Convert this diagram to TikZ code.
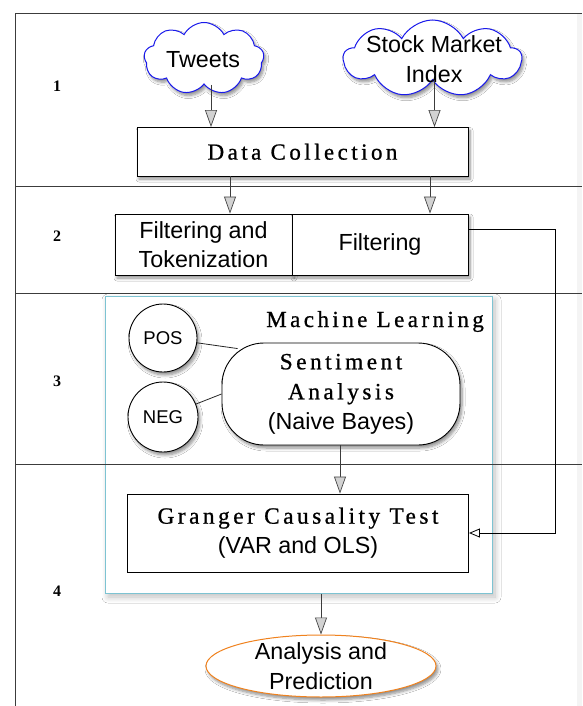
\documentclass[tikz,border=0pt]{standalone}
\usepackage{fontspec}
\setmainfont{Liberation Sans}
\newfontfamily\serf{Liberation Serif}[LetterSpace=15,FakeBold=0.8]
\newfontfamily\numf{Liberation Serif}
\usetikzlibrary{shapes.symbols,shapes.geometric,arrows.meta,shadows.blur,calc}
\definecolor{cloudblue}{RGB}{25,25,235}
\definecolor{mlteal}{RGB}{125,195,210}
\definecolor{apor}{RGB}{240,130,30}
\definecolor{linegray}{RGB}{60,60,60}
\begin{document}
\begin{tikzpicture}[x=1pt,y=-1pt,
  sans/.style={font=\fontsize{23.3}{29.5}\selectfont, align=center, inner sep=0pt},
  sertxt/.style={font=\serf\fontsize{23}{30}\selectfont, align=center, inner sep=0pt},
  box/.style={draw=black, line width=0.9pt, fill=white, inner sep=0pt},
  shad/.style={blur shadow={shadow xshift=2pt, shadow yshift=-3pt, shadow opacity=45, shadow blur steps=6, shadow blur radius=3pt}},
  softshad/.style={blur shadow={shadow xshift=3pt, shadow yshift=-4pt, shadow opacity=25, shadow blur steps=8, shadow blur radius=6pt}},
  cloudnode/.style={cloud, cloud puffs=9, cloud puff arc=125, cloud ignores aspect, draw=cloudblue, line width=1pt, fill=white, inner sep=0pt},
  garr/.style={draw=linegray, line width=0.9pt, -{Triangle[length=17pt,width=12pt,fill=gray!35,color=gray!55!black,line width=0.7pt]}},
  warr/.style={draw=black, line width=0.8pt, -{Triangle[length=11pt,width=9pt,fill=white,line width=0.8pt]}},
  thinline/.style={draw=black!85, line width=0.8pt},
  sep/.style={draw=linegray, line width=0.9pt},
  rownum/.style={font=\numf\bfseries\fontsize{16}{16}\selectfont, inner sep=0pt}
]
\useasboundingbox (0,0) rectangle (582,706);
\fill[white] (0,0) rectangle (582,706);
\fill[gray!9] (577,13) rectangle (582,706);

% machine learning frame (filled first so separators show through)
\node[draw=mlteal, line width=1pt, fill=white, softshad, minimum width=387pt, minimum height=297pt, inner sep=0pt] (ml) at (298.5,444.5) {};

% frame and row separators
\draw[sep] (15,706) -- (15,13) -- (582,13);
\draw[sep] (15,186) -- (582,186);
\draw[sep] (15,293) -- (582,293);
\draw[sep] (15,464) -- (582,464);

\node[rownum] (r1) at (57,86) {1};
\node[rownum] (r2) at (57,236) {2};
\node[rownum] (r3) at (57,381) {3};
\node[rownum] (r4) at (57,591) {4};

% clouds
\node[cloudnode, shad, minimum width=120pt, minimum height=72pt] (tw) at (204,58.5) {};
\node[sans] (twt) at (203,60) {Tweets};
\node[cloudnode, shad, minimum width=178pt, minimum height=77pt] (st) at (432.5,58.5) {};
\node[sans] (stt) at (434,59) {Stock Market\\Index};

% boxes
\node[box, shad, minimum width=331pt, minimum height=48.5pt, sertxt] (dc) at (302.5,151.75) {Data Collection};
\node[box, shad, minimum width=177pt, minimum height=61pt, sans] (ft) at (203.5,244.5) {Filtering and\\Tokenization};
\node[box, shad, minimum width=176pt, minimum height=61pt, sans] (filt) at (380,244.5) {Filtering};

\node[sertxt, anchor=base east] (mll) at (484,327) {Machine Learning};

\node[circle, draw=black, line width=0.9pt, fill=white, shad, minimum size=68pt, inner sep=0pt, font=\fontsize{18.5}{20}\selectfont] (pos) at (163,338) {POS};
\node[circle, draw=black, line width=0.9pt, fill=white, shad, minimum size=70pt, inner sep=0pt, font=\fontsize{18.5}{20}\selectfont] (neg) at (163,417) {NEG};

\node[box, rounded corners=42pt, shad, minimum width=238pt, minimum height=102pt, sans, font=\fontsize{23.3}{30}\selectfont] (sa) at (341,394) {{\serf Sentiment}\\{\serf Analysis}\\(Naive Bayes)};

\node[box, minimum width=341pt, minimum height=78pt, sans, font=\fontsize{23.3}{30}\selectfont] (gr) at (298,533) {{\serf Granger Causality Test}\\(VAR and OLS)};

\node[ellipse, draw=apor, line width=1pt, fill=white, shad, minimum width=230pt, minimum height=62pt, inner sep=0pt] (ap) at (321,666) {};
\node[sans, font=\fontsize{23.3}{30}\selectfont] (apt) at (321,666.5) {Analysis and\\Prediction};

% connectors
\coordinate (dcA) at ([xshift=-91.5pt]dc.north);
\coordinate (dcB) at ([xshift=132pt]dc.north);
\coordinate (ftA) at ([xshift=26.5pt]ft.north);
\coordinate (fiA) at ([xshift=50pt]filt.north);
\coordinate (grA) at ([xshift=42pt]gr.north);
\draw[garr] (tw.south -| dcA) -- (dcA);
\draw[garr] (st.south -| dcB) -- (dcB);
\draw[garr] (dc.south -| ftA) -- (ftA);
\draw[garr] (dc.south -| fiA) -- (fiA);
\draw[garr] (sa.south -| grA) -- (grA);
\draw[garr] (ml.south -| ap.north) -- (ap.north);
\draw[warr] ([yshift=15.5pt]filt.east) -- ++(87,0) |- (gr.east);

\draw[thinline] (pos) -- ($(sa.north west)+(16,6)$);
\draw[thinline] (neg) -- (sa.west);
\end{tikzpicture}
\end{document}
